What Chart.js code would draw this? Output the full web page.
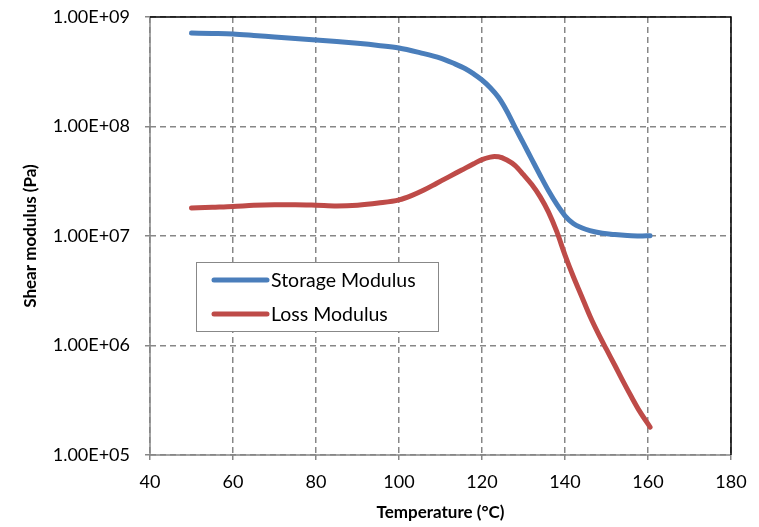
<!DOCTYPE html>
<html><head><meta charset="utf-8">
<script src="https://cdn.jsdelivr.net/npm/chart.js@4.4.1/dist/chart.umd.min.js"></script>
<style>html,body{margin:0;padding:0;background:#fff;}canvas{display:block;}</style>
</head><body>
<canvas id="c" width="759" height="527"></canvas>
<script>
const storageTemp = [50,55,60,65,70,75,80,85,90,95,100,105,110,113,116,118,120,122,124,126,128,130,132,134,136,138,140,142,144,146,149,152,155,158,160.5];
const storageModulus = [7.14e8,7.08e8,7.0e8,6.79e8,6.56e8,6.35e8,6.17e8,5.97e8,5.75e8,5.5e8,5.21e8,4.73e8,4.22e8,3.80e8,3.37e8,3.02e8,2.66e8,2.26e8,1.84e8,1.38e8,9.77e7,7.0e7,5.01e7,3.59e7,2.60e7,1.95e7,1.53e7,1.30e7,1.19e7,1.12e7,1.06e7,1.03e7,1.01e7,1.0e7,1.007e7];
const lossTemp = [50,55,60,65,70,75,80,85,90,95,100,103,106,109,112,115,118,120,122,123,124,126,128,130,132,134,136,138,140,142,144,146,148,150,152,154,156,158,160.5];
const lossModulus = [1.80e7,1.83e7,1.86e7,1.91e7,1.93e7,1.93e7,1.91e7,1.88e7,1.91e7,2.0e7,2.14e7,2.34e7,2.63e7,3.02e7,3.47e7,3.98e7,4.57e7,4.98e7,5.25e7,5.32e7,5.30e7,4.95e7,4.40e7,3.63e7,2.95e7,2.29e7,1.66e7,1.10e7,6.7e6,4.27e6,2.82e6,1.86e6,1.29e6,9.2e5,6.6e5,4.7e5,3.4e5,2.5e5,1.8e5];
const xTicks = [40,60,80,100,120,140,160,180];
const yTicks = [1e5,1e6,1e7,1e8,1e9];
const seriesNames = ['Storage Modulus','Loss Modulus'];
const seriesColors = ['#4A7EBB','#BE4B48'];

const FONT = 'Lato, "Open Sans", sans-serif';
const GRID = '#878787';

function pts(xs, ys){ return xs.map((x,i)=>({x:x,y:ys[i]})); }

const frame = {
  id:'frame',
  beforeDatasetsDraw(chart){
    const {ctx, chartArea:a} = chart;
    ctx.save();
    ctx.lineWidth = 1.5;
    ctx.strokeStyle = GRID;
    ctx.beginPath();
    ctx.moveTo(a.left, a.top); ctx.lineTo(a.left, a.bottom); ctx.lineTo(a.right, a.bottom);
    ctx.stroke();
    ctx.restore();
  },
  afterDatasetsDraw(chart){
    const {ctx, chartArea:a} = chart;
    ctx.save();
    ctx.strokeStyle = '#000';
    ctx.lineWidth = 1.5;
    ctx.beginPath();
    ctx.moveTo(a.left, a.top); ctx.lineTo(a.right, a.top); ctx.lineTo(a.right, a.bottom);
    ctx.stroke();
    ctx.restore();
  },
  afterDraw(chart){
    const ctx = chart.ctx;
    const bx=196, by=262, bw=242, bh=69;
    ctx.save();
    ctx.fillStyle='#fff';
    ctx.fillRect(bx,by,bw,bh);
    ctx.strokeStyle='#888';
    ctx.lineWidth=1;
    ctx.strokeRect(bx+0.5,by+0.5,bw,bh);
    chart.data.datasets.forEach((ds,i)=>{
      const y = by + 18 + i*34;
      ctx.strokeStyle = ds.borderColor;
      ctx.lineWidth = 5;
      ctx.lineCap = 'round';
      ctx.beginPath(); ctx.moveTo(214,y); ctx.lineTo(267,y); ctx.stroke();
      ctx.fillStyle='#000';
      ctx.font = '19.5px ' + FONT;
      ctx.textBaseline='middle';
      ctx.textAlign='left';
      ctx.fillText(ds.label, 271, y+1);
    });
    ctx.restore();
  }
};

const gridOpts = {color:GRID, lineWidth:1.5, tickLength:5, tickBorderDash:[], tickColor:GRID, tickWidth:1.5};
const borderOpts = {display:false, dash:[6,4]};

new Chart(document.getElementById('c'), {
  type:'line',
  data:{
    datasets:[
      {label:seriesNames[0], data:pts(storageTemp,storageModulus), borderColor:seriesColors[0], backgroundColor:seriesColors[0], borderWidth:5, pointRadius:0, cubicInterpolationMode:'monotone', borderCapStyle:'round', borderJoinStyle:'round'},
      {label:seriesNames[1], data:pts(lossTemp,lossModulus), borderColor:seriesColors[1], backgroundColor:seriesColors[1], borderWidth:5, pointRadius:0, cubicInterpolationMode:'monotone', borderCapStyle:'round', borderJoinStyle:'round'}
    ]
  },
  options:{
    responsive:false,
    animation:false,
    devicePixelRatio:1,
    layout:{padding:{top:17,right:28,left:0,bottom:0}},
    plugins:{legend:{display:false}, tooltip:{enabled:false}},
    scales:{
      x:{
        type:'linear', min:40, max:180,
        afterBuildTicks(s){ s.ticks = xTicks.map(v=>({value:v})); },
        afterFit(s){ s.height = 72; s.paddingLeft = 0; s.paddingRight = 0; },
        ticks:{color:'#000', font:{family:FONT,size:18}, padding:11, maxRotation:0},
        grid:gridOpts,
        border:borderOpts,
        title:{display:true, text:'Temperature (°C)', color:'#000', font:{family:FONT,size:17,weight:'bold'}, padding:{top:0,bottom:4}}
      },
      y:{
        type:'logarithmic', min:1e5, max:1e9,
        afterBuildTicks(s){ s.ticks = yTicks.map(v=>({value:v})); },
        afterFit(s){ s.width = 150; s.paddingTop = 0; s.paddingBottom = 0; },
        ticks:{color:'#000', font:{family:FONT,size:18}, padding:15,
          callback(v){ const e=Math.round(Math.log10(v)); const m=v/Math.pow(10,e); return m.toFixed(2)+'E+'+String(e).padStart(2,'0'); }},
        grid:gridOpts,
        border:borderOpts,
        title:{display:true, text:'Shear modulus (Pa)', color:'#000', font:{family:FONT,size:17,weight:'bold'}, padding:{top:20,bottom:0}}
      }
    }
  },
  plugins:[frame]
});
</script>
</body></html>
